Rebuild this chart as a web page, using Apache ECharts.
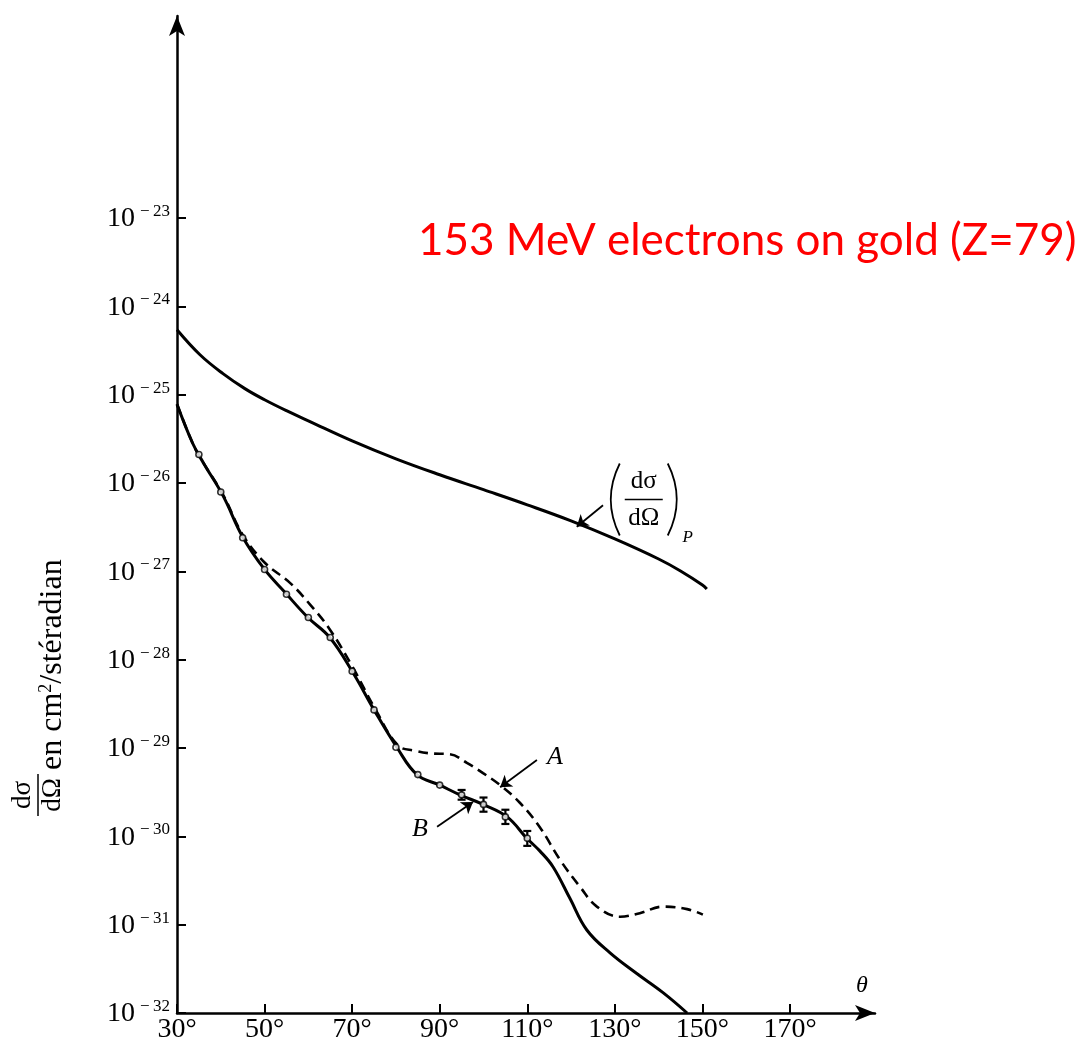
<!DOCTYPE html>
<html>
<head>
<meta charset="utf-8">
<script src="https://cdn.jsdelivr.net/npm/echarts@6.0.0/dist/echarts.min.js"></script>
<style>
  html, body { margin: 0; padding: 0; background: #fff; }
  #chart { width: 1084px; height: 1048px; }
</style>
</head>
<body>
<div id="chart"></div>
<script>
// Scattering angle θ (degrees) vs. cross-section dσ/dΩ (cm²/sr)

// point-charge (Mott) cross-section
const pointCharge = [
  [30, 5.43e-25], [35.25, 2.83e-25], [40.5, 1.73e-25], [45.5, 1.17e-25], [50, 8.75e-26],
  [55, 6.58e-26], [60, 5.06e-26], [70, 3.0e-26], [80, 1.88e-26], [90, 1.24e-26],
  [100, 8.4e-27], [110, 5.66e-27], [120, 3.73e-27], [130, 2.33e-27], [140, 1.38e-27],
  [145, 1.01e-27], [150, 7.0e-28], [151, 6.3e-28]
];

// curve B (solid)
const curveB = [
  [30, 7.8e-26], [33.6, 2.8e-26], [36, 1.7e-26], [40.5, 7.2e-27], [45, 2.45e-27],
  [50, 1.05e-27], [54.7, 5.75e-28], [59.9, 3.0e-28], [64.9, 1.78e-28], [70.2, 7.1e-29],
  [75, 2.7e-29], [80.2, 1.02e-29], [84.8, 5.0e-30], [90, 3.8e-30], [94.6, 2.95e-30],
  [99.9, 2.3e-30], [105.4, 1.66e-30], [109.9, 9.5e-31], [112.9, 6.8e-31], [115.9, 4.5e-31],
  [119.7, 2.0e-31], [123.6, 8.7e-32], [128.9, 4.8e-32], [135, 2.8e-32], [141, 1.7e-32],
  [146.5, 1.0e-32]
];

// curve A (dashed)
const curveA = [
  [30, 7.8e-26], [33.6, 2.8e-26], [36, 1.7e-26], [40.5, 7.4e-27], [45, 2.6e-27],
  [50, 1.26e-27], [55.8, 7.4e-28], [60.4, 4.2e-28], [64.9, 2.2e-28], [70.2, 8.1e-29],
  [75.2, 2.8e-29], [80.5, 1.07e-29], [84.4, 9.3e-30], [87.8, 8.7e-30], [92.3, 8.5e-30],
  [96.2, 6.8e-30], [99.9, 5.2e-30], [103.8, 3.8e-30], [108.3, 2.4e-30], [112.9, 1.26e-30],
  [117.5, 5.4e-31], [122, 2.7e-31], [125.9, 1.6e-31], [131.2, 1.23e-31], [135.7, 1.35e-31],
  [141, 1.6e-31], [146.5, 1.5e-31], [150.1, 1.3e-31]
];

// measured points
const measured = [
  [35, 2.1e-26], [40, 7.9e-27], [45, 2.4e-27], [50, 1.05e-27], [55, 5.5e-28],
  [60, 3.0e-28], [65, 1.78e-28], [70, 7.4e-29], [75, 2.7e-29], [80, 1.02e-29],
  [85, 5.0e-30], [90, 3.8e-30], [95, 2.95e-30], [100, 2.3e-30], [105, 1.66e-30],
  [110, 9.5e-31]
];

// error bars: angle, low, high
const errorBars = [
  [95, 2.6e-30, 3.35e-30], [100, 1.9e-30, 2.75e-30],
  [105, 1.38e-30, 2.0e-30], [110, 7.8e-31, 1.15e-30]
];

// axis ticks
const xTickLabels = ['30°', '50°', '70°', '90°', '110°', '130°', '150°', '170°'];
const yTickExponents = [-32, -31, -30, -29, -28, -27, -26, -25, -24, -23];

// annotation arrows [tail, head] and label anchors
const arrowA = [[112.2, 7.3e-30], [103.8, 3.6e-30]];
const arrowB = [[89.4, 1.28e-30], [97.6, 2.45e-30]];
const arrowP = [[127.3, 5.6e-27], [121.3, 3.2e-27]];
const labelA = [116.3, 7.9e-30];
const labelB = [85.5, 1.2e-30];
const labelP = [136.6, 6.5e-27];

const SERIF = '"Liberation Serif", "DejaVu Serif", serif';
const INK = '#000';

// layout: the tick frame (30°–170°, 1e-32–1e-23) and the longer arrowed axes share one scale
const W = 1084, H = 1048;
const plotLeft = 177, plotBottom = 1013;
const tickTop = 218, tickRight = 790;
const axisTop = 16, axisRight = 875;
const xMin = 30, xTickMax = 170;
const eMin = -32, eTickMax = -23;
const pxPerDeg = (tickRight - plotLeft) / (xTickMax - xMin);
const pxPerDecade = (plotBottom - tickTop) / (eTickMax - eMin);
const xAxisMax = xMin + (axisRight - plotLeft) / pxPerDeg;
const yAxisMaxExp = eMin + (plotBottom - axisTop) / pxPerDecade;

const chart = echarts.init(document.getElementById('chart'), null, { renderer: 'canvas' });

const arrowAxisLine = {
  show: true,
  symbol: ['none', 'arrow'],
  symbolSize: [12, 20],
  lineStyle: { color: INK, width: 2.5 }
};
const tickStyle = { show: true, inside: true, length: 9, lineStyle: { color: INK, width: 2 } };
const off = { show: false };

const option = {
  backgroundColor: '#fff',
  animation: false,
  title: {
    text: '153 MeV electrons on gold (Z=79)',
    left: 413,
    top: 214,
    textStyle: { color: '#ff0000', fontSize: 44, fontWeight: 'normal', fontFamily: 'Lato, "Open Sans", sans-serif' }
  },
  grid: [
    { left: plotLeft, right: W - axisRight, top: axisTop, bottom: H - plotBottom },
    { left: plotLeft, right: W - tickRight, top: tickTop, bottom: H - plotBottom }
  ],
  xAxis: [
    {
      gridIndex: 0, type: 'value', min: xMin, max: xAxisMax,
      axisLine: arrowAxisLine, axisTick: off, axisLabel: off, splitLine: off
    },
    {
      gridIndex: 1, type: 'value', min: xMin, max: xTickMax, interval: 20,
      axisLine: off, axisTick: tickStyle, splitLine: off,
      axisLabel: {
        margin: 3, color: INK, fontSize: 28, fontFamily: SERIF,
        formatter: v => xTickLabels[Math.round((v - xMin) / 20)] || ''
      }
    }
  ],
  yAxis: [
    {
      gridIndex: 0, type: 'log', min: Math.pow(10, eMin), max: Math.pow(10, yAxisMaxExp),
      axisLine: arrowAxisLine, axisTick: off, axisLabel: off, splitLine: off
    },
    {
      // decade ticks, in powers of ten
      gridIndex: 1, type: 'value', min: eMin, max: eTickMax, interval: 1,
      axisLine: off, axisTick: tickStyle, splitLine: off,
      axisLabel: {
        margin: 7, color: INK,
        formatter: v => {
          const e = Math.round(v);
          if (yTickExponents.indexOf(e) < 0) return '';
          return '{b|10}{s|\u2212\u2009' + (-e) + '}';
        },
        rich: {
          b: { fontSize: 28, fontFamily: SERIF, color: INK, lineHeight: 30, verticalAlign: 'bottom' },
          s: { fontSize: 17, fontFamily: SERIF, color: INK, lineHeight: 18, verticalAlign: 'top', padding: [0, 0, 0, 5] }
        }
      }
    }
  ],
  series: [
    {
      name: 'point', type: 'line', xAxisIndex: 0, yAxisIndex: 0,
      data: pointCharge, smooth: 0.4, showSymbol: false,
      lineStyle: { color: INK, width: 3 },
      markLine: {
        silent: true, symbol: ['none', 'arrow'], symbolSize: 11,
        label: { show: false },
        lineStyle: { color: INK, width: 1.8, type: 'solid' },
        data: [
          [{ coord: arrowP[0] }, { coord: arrowP[1] }],
          [{ coord: arrowA[0] }, { coord: arrowA[1] }],
          [{ coord: arrowB[0] }, { coord: arrowB[1] }]
        ]
      }
    },
    {
      name: 'B', type: 'line', xAxisIndex: 0, yAxisIndex: 0,
      data: curveB, smooth: 0.4, showSymbol: false,
      lineStyle: { color: INK, width: 3 }
    },
    {
      name: 'A', type: 'line', xAxisIndex: 0, yAxisIndex: 0,
      data: curveA, smooth: 0.4, showSymbol: false,
      lineStyle: { color: INK, width: 2.6, type: [10, 6] }
    },
    {
      name: 'errors', type: 'custom', xAxisIndex: 0, yAxisIndex: 0,
      data: errorBars, z: 4,
      renderItem: (params, api) => {
        const x = api.value(0);
        const lo = api.coord([x, api.value(1)]);
        const hi = api.coord([x, api.value(2)]);
        const st = { stroke: INK, lineWidth: 2.2 };
        return {
          type: 'group',
          children: [
            { type: 'line', shape: { x1: lo[0], y1: lo[1], x2: hi[0], y2: hi[1] }, style: st },
            { type: 'line', shape: { x1: lo[0] - 4, y1: lo[1], x2: lo[0] + 4, y2: lo[1] }, style: st },
            { type: 'line', shape: { x1: hi[0] - 4, y1: hi[1], x2: hi[0] + 4, y2: hi[1] }, style: st }
          ]
        };
      }
    },
    {
      name: 'measured', type: 'scatter', xAxisIndex: 0, yAxisIndex: 0,
      data: measured, symbol: 'circle', symbolSize: 6, z: 5,
      itemStyle: { color: '#fff', borderColor: INK, borderWidth: 1.6 }
    },
    // keeps the tick frame laid out
    { name: 'frame', type: 'line', xAxisIndex: 1, yAxisIndex: 1, data: [], silent: true }
  ]
};

chart.setOption(option);

// text labels placed at data positions
const toPx = p => chart.convertToPixel({ xAxisIndex: 0, yAxisIndex: 0 }, p);
const pA = toPx(labelA), pB = toPx(labelB), pP = toPx(labelP);
const serifText = (x, y, text, size, extra) => ({
  type: 'text', x, y,
  style: Object.assign({ text, font: size + 'px ' + SERIF, fill: INK, align: 'center', verticalAlign: 'middle' }, extra || {})
});

chart.setOption({
  graphic: [
    serifText(pA[0], pA[1], 'A', 26, { font: 'italic 26px ' + SERIF }),
    serifText(pB[0], pB[1], 'B', 26, { font: 'italic 26px ' + SERIF }),
    {
      type: 'group', x: pP[0], y: pP[1],
      children: [
        { type: 'bezierCurve', shape: { x1: -24, y1: -36, cpx1: -42, cpy1: 0, x2: -24, y2: 36 }, style: { stroke: INK, lineWidth: 1.8, fill: null } },
        { type: 'bezierCurve', shape: { x1: 24, y1: -36, cpx1: 42, cpy1: 0, x2: 24, y2: 36 }, style: { stroke: INK, lineWidth: 1.8, fill: null } },
        serifText(0, -18, 'dσ', 25),
        { type: 'line', shape: { x1: -19, y1: 0, x2: 19, y2: 0 }, style: { stroke: INK, lineWidth: 1.5 } },
        serifText(0, 19, 'dΩ', 25),
        serifText(44, 38, 'P', 17, { font: 'italic 17px ' + SERIF })
      ]
    },
    // axis name: dσ/dΩ en cm²/stéradian
    {
      type: 'group', x: 38, y: 795, rotation: Math.PI / 2,
      children: [
        serifText(0, -15, 'dσ', 27),
        { type: 'line', shape: { x1: -21, y1: 0, x2: 21, y2: 0 }, style: { stroke: INK, lineWidth: 1.5 } },
        serifText(0, 15, 'dΩ', 27),
        {
          type: 'text', x: 25, y: 15,
          style: {
            text: 'en cm{s|2}/stéradian',
            font: '32px ' + SERIF, fill: INK, align: 'left', verticalAlign: 'middle',
            rich: { s: { fontSize: 18, fontFamily: SERIF, fill: INK, verticalAlign: 'top', lineHeight: 18 } }
          }
        }
      ]
    },
    serifText(862, 986, 'θ', 24, { font: 'italic 24px ' + SERIF })
  ]
});
</script>
</body>
</html>
